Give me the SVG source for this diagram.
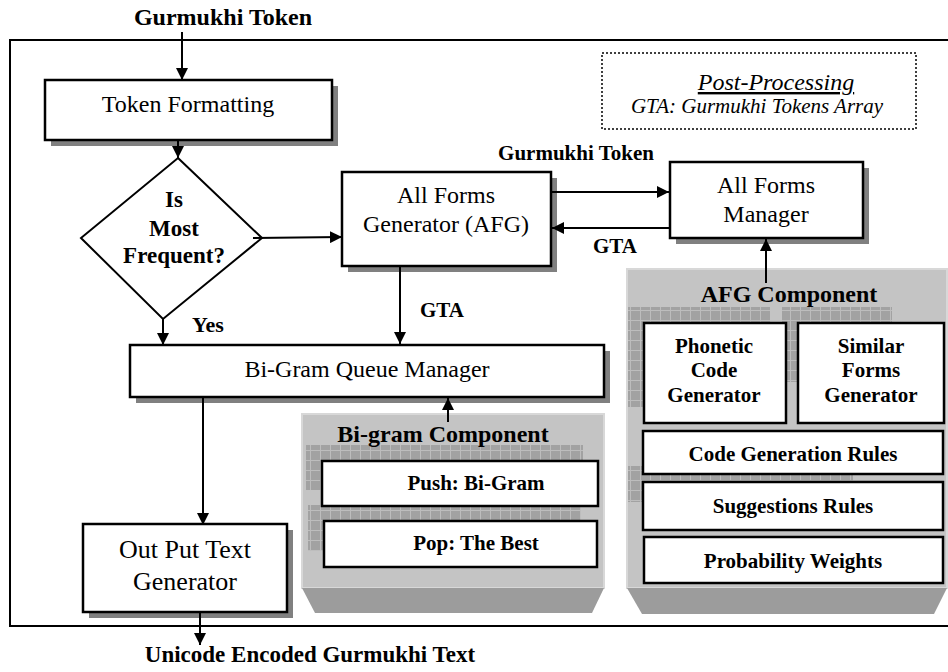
<svg xmlns="http://www.w3.org/2000/svg" width="948" height="672" viewBox="0 0 948 672">
<defs>
<style>
.t{font-family:"Liberation Serif","Times New Roman",serif;fill:#000;text-anchor:middle}
.r{font-size:24px}
.b{font-weight:bold}
.box{fill:#fff;stroke:#000;stroke-width:2.5}
.sh{fill:#808080}
.ln{stroke:#000;stroke-width:2;fill:none}
.cont{fill:#c4c4c4;stroke:#d8d8d8;stroke-width:2}
.bot{fill:#9c9c9c}
</style>
<pattern id="chk" width="10" height="10" patternUnits="userSpaceOnUse">
<rect width="10" height="10" fill="#a2a2a2"/>
<path d="M0 0.5H10M0.5 0V10" stroke="#bdbdbd" stroke-width="1"/>
</pattern>
<marker id="ah" viewBox="0 0 12 12" refX="12" refY="6" markerWidth="12" markerHeight="12" markerUnits="userSpaceOnUse" orient="auto">
<path d="M0 0L12 6L0 12Z" fill="#000"/>
</marker>
</defs>
<rect width="948" height="672" fill="#fff"/>
<rect id="frame" x="10" y="40" width="942" height="586" fill="none" stroke="#000" stroke-width="2"/>

<g id="legend">
<rect x="602" y="53" width="314" height="76" fill="none" stroke="#000" stroke-width="1.5" stroke-dasharray="2,2"/>
<text class="t" x="776" y="90" font-size="24" font-style="italic" text-decoration="underline">Post-Processing</text>
<text class="t" x="757" y="113" font-size="21" font-style="italic">GTA: Gurmukhi Tokens Array</text>
</g>

<g id="bigram-component">
<rect class="cont" x="302" y="414" width="302" height="174"/>
<path class="bot" d="M302 588H604L592 613H315Z"/>
<rect x="306" y="445" width="277" height="45" fill="url(#chk)"/>
<rect x="308" y="505" width="273" height="46" fill="url(#chk)"/>
<text class="t b" x="443" y="442" font-size="24">Bi-gram Component</text>
<g id="push">
<rect class="box" x="322" y="461" width="276" height="45"/>
<text class="t b" x="476" y="490" font-size="21">Push: Bi-Gram</text>
</g>
<g id="pop">
<rect class="box" x="324" y="521" width="273" height="46"/>
<text class="t b" x="476" y="550" font-size="21">Pop: The Best</text>
</g>
</g>

<g id="afg-component">
<rect class="cont" x="627" y="269" width="320" height="319"/>
<path class="bot" d="M627 588H947L934 614H642Z"/>
<rect x="628" y="307" width="142" height="100" fill="url(#chk)"/>
<rect x="782" y="307" width="110" height="75" fill="url(#chk)"/>
<rect x="628" y="466" width="225" height="36" fill="url(#chk)"/>
<text class="t b" x="789" y="302" font-size="24">AFG Component</text>
<g id="phonetic">
<rect class="box" x="644" y="323" width="142" height="100"/>
<text class="t b" x="714" y="353" font-size="21">Phonetic</text>
<text class="t b" x="714" y="377" font-size="21">Code</text>
<text class="t b" x="714" y="402" font-size="21">Generator</text>
</g>
<g id="similar">
<rect class="box" x="798" y="323" width="146" height="100"/>
<text class="t b" x="871" y="353" font-size="21">Similar</text>
<text class="t b" x="871" y="377" font-size="21">Forms</text>
<text class="t b" x="871" y="402" font-size="21">Generator</text>
</g>
<g id="codegen">
<rect class="box" x="643" y="431" width="300" height="43"/>
<text class="t b" x="793" y="461" font-size="21">Code Generation Rules</text>
</g>
<g id="suggestions">
<rect class="box" x="643" y="482" width="300" height="48"/>
<text class="t b" x="793" y="513" font-size="21">Suggestions Rules</text>
</g>
<g id="probability">
<rect class="box" x="644" y="537" width="299" height="46"/>
<text class="t b" x="793" y="568" font-size="21">Probability Weights</text>
</g>
</g>

<g id="token-formatting">
<rect class="sh" x="51" y="86" width="287" height="60"/>
<rect class="box" x="45" y="80" width="287" height="60"/>
<text class="t r" x="188" y="112">Token Formatting</text>
</g>

<g id="decision">
<polygon points="178,158 262,238 163,319 81,238" fill="#fff" stroke="#000" stroke-width="2"/>
<text class="t b" x="174" y="207" font-size="23">Is</text>
<text class="t b" x="174" y="236" font-size="23">Most</text>
<text class="t b" x="174" y="263" font-size="23">Frequent?</text>
</g>

<g id="afg">
<rect class="sh" x="348" y="178" width="209" height="94"/>
<rect class="box" x="342" y="172" width="209" height="94"/>
<text class="t r" x="446" y="203">All Forms</text>
<text class="t r" x="446" y="232">Generator (AFG)</text>
</g>

<g id="afm">
<rect class="sh" x="676" y="168" width="193" height="76"/>
<rect class="box" x="670" y="162" width="193" height="76"/>
<text class="t r" x="766" y="193">All Forms</text>
<text class="t r" x="766" y="222">Manager</text>
</g>

<g id="bgqm">
<rect class="sh" x="136" y="351" width="474" height="52"/>
<rect class="box" x="130" y="345" width="474" height="52"/>
<text class="t r" x="367" y="377">Bi-Gram Queue Manager</text>
</g>

<g id="output">
<rect class="sh" x="89" y="530" width="204" height="88"/>
<rect class="box" x="83" y="524" width="204" height="88"/>
<text class="t" x="185" y="558" font-size="26">Out Put Text</text>
<text class="t" x="185" y="590" font-size="26">Generator</text>
</g>

<g id="connectors">
<line class="ln" x1="182" y1="32" x2="182" y2="80" marker-end="url(#ah)"/>
<line class="ln" x1="178" y1="140" x2="178" y2="158" marker-end="url(#ah)"/>
<line class="ln" x1="253" y1="238" x2="342" y2="237" marker-end="url(#ah)"/>
<line class="ln" x1="551" y1="192" x2="669" y2="192" marker-end="url(#ah)"/>
<line class="ln" x1="669" y1="228" x2="552" y2="228" marker-end="url(#ah)"/>
<line class="ln" x1="163" y1="319" x2="163" y2="345" marker-end="url(#ah)"/>
<line class="ln" x1="400" y1="266" x2="400" y2="344" marker-end="url(#ah)"/>
<line class="ln" x1="448" y1="422" x2="448" y2="398" marker-end="url(#ah)"/>
<line class="ln" x1="766" y1="283" x2="766" y2="239" marker-end="url(#ah)"/>
<line class="ln" x1="203" y1="397" x2="203" y2="525" marker-end="url(#ah)"/>
<line class="ln" x1="200" y1="612" x2="200" y2="645" marker-end="url(#ah)"/>
</g>

<g id="labels">
<text class="t b" x="223" y="25" font-size="24">Gurmukhi Token</text>
<text class="t b" x="576" y="160" font-size="21">Gurmukhi Token</text>
<text class="t b" x="615" y="253" font-size="21">GTA</text>
<text class="t b" x="442" y="317" font-size="21">GTA</text>
<text class="t b" x="208" y="332" font-size="22">Yes</text>
<text class="t b" x="310" y="662" font-size="23">Unicode Encoded Gurmukhi Text</text>
</g>
</svg>
